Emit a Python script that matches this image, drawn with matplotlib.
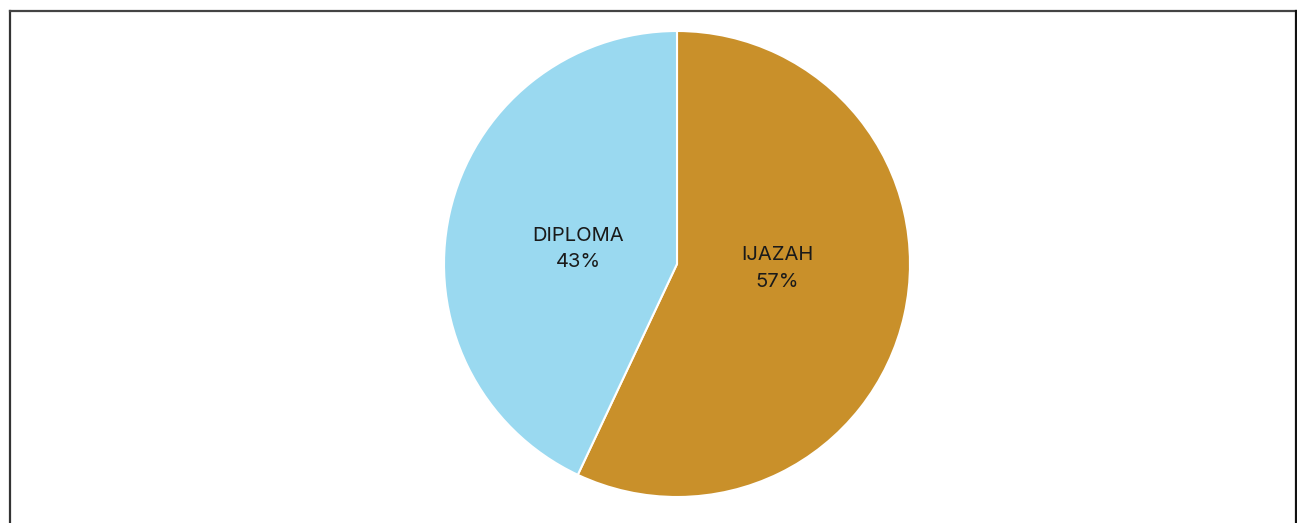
import matplotlib
matplotlib.use("Agg")
import matplotlib.pyplot as plt
from matplotlib.lines import Line2D

categories = ["IJAZAH", "DIPLOMA"]
values = [57, 43]
colors = ["#C9902A", "#9AD9F0"]
label_pos = {"IJAZAH": (0.43, -0.018), "DIPLOMA": (-0.425, 0.065)}

W, H = 1297, 523
fig = plt.figure(figsize=(W / 100, H / 100), dpi=100)
fig.patch.set_facecolor("white")

cx, cy, r = 677, 264, 233
ax = fig.add_axes([(cx - r) / W, (H - cy - r) / H, 2 * r / W, 2 * r / H])
wedges, _ = ax.pie(values, colors=colors, startangle=90, counterclock=False,
                   radius=1.0, wedgeprops=dict(edgecolor="white", linewidth=1.5))
ax.set_xlim(-1, 1)
ax.set_ylim(-1, 1)
ax.set_aspect("equal")
ax.axis("off")

for cat, val in zip(categories, values):
    x, y = label_pos[cat]
    ax.text(x, y, f"{cat}\n{val}%", ha="center", va="center", fontsize=14.5,
            family=["Inter", "DejaVu Sans"], color="#1a1a1a", linespacing=1.62)

# outer frame (left, top, right)
x0, x1 = 9.5 / W, 1296 / W
ytop = 1 - 11 / H
fig.add_artist(Line2D([x0, x0], [-0.01, ytop], transform=fig.transFigure, color="#333333", lw=1.6))
fig.add_artist(Line2D([x0, x1], [ytop, ytop], transform=fig.transFigure, color="#444444", lw=1.6))
fig.add_artist(Line2D([x1, x1], [-0.01, ytop], transform=fig.transFigure, color="#111111", lw=1.6))

fig.savefig("out.png", dpi=100, facecolor="white")
